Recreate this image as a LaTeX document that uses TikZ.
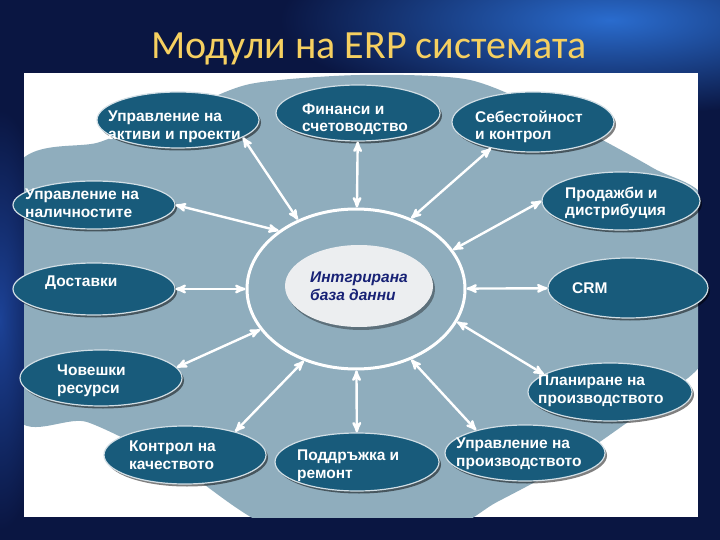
\documentclass[tikz,border=0pt]{standalone}
\usepackage{fontspec}
\newfontfamily\titlefont{Carlito}
\newfontfamily\modfont{Liberation Sans}
\usetikzlibrary{
  arrows,
  shapes.geometric,
  shadows,
  positioning
}
\definecolor{slidebg}{RGB}{10,22,66}
\definecolor{slideglow}{RGB}{42,108,206}
\definecolor{sideglow}{RGB}{28,66,150}
\definecolor{plate}{RGB}{143,173,189}
\definecolor{modfill}{RGB}{24,91,123}
\definecolor{dbfill}{RGB}{236,238,240}
\definecolor{dbtext}{RGB}{24,34,118}
\definecolor{titlegold}{RGB}{246,208,96}

\begin{document}
\begin{tikzpicture}[x=1pt,y=-1pt,
      module/.style={
         ellipse,
         minimum width=162pt,
         minimum height=56pt,
         inner sep=0pt,
         fill=modfill,
         draw=white!80!modfill,
         line width=1.2pt,
         drop shadow={shadow xshift=2pt,shadow yshift=-2.5pt,
                      fill=black,opacity=.5}
      },
      modtext/.style={
         anchor=west,
         align=left,
         inner sep=0pt,
         text=white,
         font=\modfont\bfseries\fontsize{15.5}{17.5}\selectfont
      },
      link/.style={<->,>=stealth',draw=white,line width=2.4pt},
    ]
    \useasboundingbox (0,0) rectangle (720,540);
    % slide background
    \fill[slidebg] (0,0) rectangle (720,540);
    \begin{scope}
      \clip (0,0) rectangle (720,540);
      \shade[inner color=slideglow,outer color=slidebg]
        (610,20) ellipse [x radius=330, y radius=95];
      \shade[inner color=sideglow,outer color=slidebg]
        (0,320) ellipse [x radius=50, y radius=210];
    \end{scope}
    \node (title) [anchor=base,text=titlegold,
      font=\titlefont\fontsize{40}{44}\selectfont] at (369,59)
      {Модули на ERP системата};
    % white panel with the grey plate
    \fill[white] (24,73) rectangle (698,517);
    \begin{scope}
      \clip (24,73) rectangle (698,517);
      \fill[plate] plot[smooth cycle,tension=.45] coordinates {
        (14,172) (100,142) (180,112) (250,84) (360,75) (470,80)
        (560,118) (653,168) (708,205) (708,350) (660,398) (570,462)
        (497,502) (440,530) (280,530) (180,468) (87,422) (14,412)};
    \end{scope}
    % centre
    \node (ring) [ellipse,draw=white,line width=3pt,
      minimum width=218pt,minimum height=160pt] at (356,289) {};
    \node (db) [ellipse,fill=dbfill,minimum width=148pt,minimum height=82pt,
      inner sep=0pt,align=left,text=dbtext,
      drop shadow={shadow xshift=2pt,shadow yshift=-3pt,fill=black,opacity=.35},
      font=\modfont\bfseries\itshape\fontsize{15.5}{17.5}\selectfont]
      at (359,286) {Интгрирана\\база данни};
    % modules
    \node (aktivi) [module] at (178,120) {};
    \node (aktivi-t) [modtext] at (108,127) {Управление на\\активи и проекти};
    \node (finansi) [module,minimum width=164pt] at (358,113) {};
    \node (finansi-t) [modtext] at (302,119) {Финанси и\\счетоводство};
    \node (sebest) [module,minimum height=60pt] at (533,122) {};
    \node (sebest-t) [modtext] at (475,127) {Себестойност\\и контрол};
    \node (prodazhbi) [module,minimum width=158pt,minimum height=58pt] at (621,201) {};
    \node (prodazhbi-t) [modtext] at (565,203) {Продажби и\\дистрибуция};
    \node (nalichnost) [module,minimum height=48pt] at (94,205) {};
    \node (nalichnost-t) [modtext] at (25,203) {Управление на\\наличностите};
    \node (dostavki) [module,minimum height=52pt] at (94,289) {};
    \node (dostavki-t) [modtext] at (45,283) {Доставки};
    \node (crm) [module,minimum width=160pt,minimum height=60pt] at (628,288) {};
    \node (crm-t) [modtext] at (572,288) {CRM};
    \node (resursi) [module] at (101,378) {};
    \node (resursi-t) [modtext] at (57,381) {Човешки\\ресурси};
    \node (planirane) [module,minimum width=164pt,minimum height=58pt] at (610,392) {};
    \node (planirane-t) [modtext] at (538,391) {Планиране на\\производството};
    \node (proizvod) [module,minimum width=160pt] at (525,453) {};
    \node (proizvod-t) [modtext] at (456,454) {Управление на\\производството};
    \node (remont) [module,minimum width=164pt,minimum height=58pt] at (357,462) {};
    \node (remont-t) [modtext] at (297,466) {Поддръжка и\\ремонт};
    \node (kachestvo) [module,minimum height=58pt] at (185,455) {};
    \node (kachestvo-t) [modtext] at (129,455) {Контрол на\\качеството};
    % connectors
    \draw[link] (ring.130) -- (aktivi.-15);
    \draw[link] (ring) -- (finansi);
    \draw[link] (ring.52) -- (sebest.212);
    \draw[link] (ring.22) -- (prodazhbi.west);
    \draw[link] (ring.143) -- (nalichnost.east);
    \draw[link] (ring) -- (dostavki);
    \draw[link] (ring) -- (crm);
    \draw[link] (ring.203) -- (resursi.8);
    \draw[link] (ring.-18) -- (planirane.165);
    \draw[link] (ring.-52) -- (proizvod.155);
    \draw[link] (ring) -- (remont);
    \draw[link] (ring.234) -- (kachestvo.25);
\end{tikzpicture}
\end{document}
